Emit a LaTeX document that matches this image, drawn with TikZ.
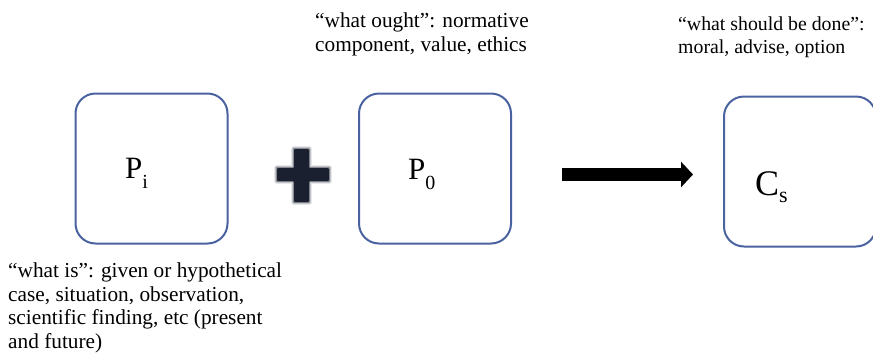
\documentclass[tikz,border=0pt]{standalone}
\usepackage{fontspec}
\setmainfont{Liberation Serif}
\usetikzlibrary{arrows.meta}
\definecolor{boxblue}{HTML}{4A62A0}
\definecolor{plusnavy}{HTML}{1A2030}
\begin{document}
\begin{tikzpicture}[x=1pt,y=-1pt,
  box/.style={draw=boxblue, line width=2pt, rounded corners=20pt, minimum width=152pt, minimum height=150pt, inner sep=0pt},
  caption/.style={font=\fontsize{21.3}{23.5}\selectfont, align=left, anchor=north west, inner sep=0pt},
  symb/.style={font=\fontsize{31}{31}\selectfont, inner sep=0pt, anchor=base west}]
\useasboundingbox (0,0) rectangle (873,354);
\clip (0,0) rectangle (873,354);
% boxes
\node[box] (pi) at (151.5,168.5) {};
\node[box] (po) at (435,168.5) {};
\node[box] (cs) at (800,171.5) {};
% labels inside boxes
\node[symb] (pilab) at (125,178) {P\raisebox{-0.33em}{\fontsize{20}{20}\selectfont i}};
\node[symb] (polab) at (408,179) {P\raisebox{-0.33em}{\fontsize{20}{20}\selectfont 0}};
\node[symb, font=\fontsize{36}{36}\selectfont] (cslab) at (755,195) {C\raisebox{-0.2em}{\fontsize{22}{22}\selectfont s}};
% plus sign with soft edge
\foreach \w/\o in {6/0.10, 4/0.18, 2/0.35}{
  \draw[plusnavy, line width=\w pt, opacity=\o, line join=round]
    (294,149) -- (309,149) -- (309,168) -- (329,168) -- (329,181) -- (309,181) -- (309,202)
    -- (294,202) -- (294,181) -- (277,181) -- (277,168) -- (294,168) -- cycle;
}
\fill[plusnavy, rounded corners=1pt]
    (294,149) -- (309,149) -- (309,168) -- (329,168) -- (329,181) -- (309,181) -- (309,202)
    -- (294,202) -- (294,181) -- (277,181) -- (277,168) -- (294,168) -- cycle;
% arrow
\coordinate (astart) at (562,174.5);
\coordinate (aend) at (693,174.5);
\draw[line width=13pt, black, -{Triangle[length=12pt,width=25pt]}] (astart) -- (aend);
% captions
\node[caption] (capi) at (8,263) {“what is”: given or hypothetical\\case, situation, observation,\\scientific finding, etc (present\\and future)};
\node[caption] (capo) at (315,13) {“what ought”: normative\\component, value, ethics};
\node[caption, font=\fontsize{19.8}{23}\selectfont] (capc) at (678,17) {“what should be done”:\\moral, advise, option};
\end{tikzpicture}
\end{document}
